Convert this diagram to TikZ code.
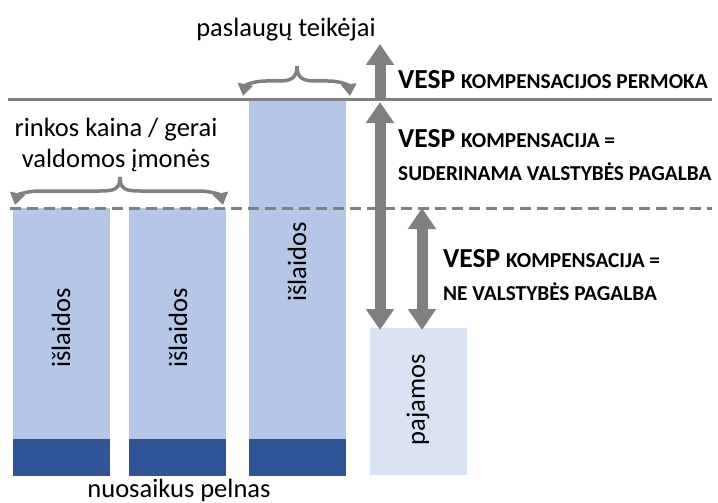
\documentclass[tikz,border=0pt]{standalone}
\usepackage{fontspec}
\setmainfont{Carlito}
\usetikzlibrary{arrows.meta}
\definecolor{barlight}{HTML}{B4C7E7}
\definecolor{bardark}{HTML}{2F5597}
\definecolor{barpale}{HTML}{DAE3F3}
\definecolor{arrgray}{HTML}{808080}
\newcommand{\vesp}[1]{{\fontsize{27.5}{33}\selectfont\bfseries VESP} {\fontsize{21.3}{33}\selectfont\bfseries #1}}
\newcommand{\capsline}[1]{{\fontsize{21.3}{33}\selectfont\bfseries #1}}

\begin{document}
\begin{tikzpicture}[x=1pt,y=-1pt,font=\fontsize{26.5}{31}\selectfont,
  cost/.style={fill=barlight,minimum width=97pt,inner sep=0pt,anchor=south west},
  profit/.style={fill=bardark,minimum width=97pt,minimum height=37pt,inner sep=0pt,anchor=north},
  fatarr/.style={arrgray,line width=11pt,-{Triangle[width=27pt,length=21pt]}},
  fatarrs/.style={arrgray,line width=11pt,{Triangle[width=27pt,length=21pt]}-{Triangle[width=27pt,length=21pt]}},
  bracearm/.style={arrgray,line width=3.5pt,-{Triangle[width=15pt,length=12pt]}},
  note/.style={anchor=west,align=left,inner sep=0pt}]
\useasboundingbox (0,0) rectangle (718,503);

% bars
\node[cost,minimum height=231pt] (b1) at (13,439) {};
\node[profit] (p1) at (b1.south) {};
\node[cost,minimum height=231pt] (b2) at (129,439) {};
\node[profit] (p2) at (b2.south) {};
\node[cost,minimum height=339pt] (b3) at (249,439) {};
\node[profit] (p3) at (b3.south) {};
\node[fill=barpale,minimum width=97pt,minimum height=147pt,inner sep=0pt,anchor=north west] (inc) at (370,328) {};

\node[rotate=90] (t1) at (61,328) {išlaidos};
\node[rotate=90] (t2) at (178,328) {išlaidos};
\node[rotate=90] (t3) at (297,262) {išlaidos};
\node[rotate=90] (t4) at (418,400) {pajamos};
\node (pelnas) at (179,490) {nuosaikus pelnas};

% levels
\coordinate (sl) at (8,100);
\coordinate (sr) at (712,100);
\coordinate (dl) at (10,208);
\coordinate (dr) at (712,208);
\draw[arrgray,line width=3pt] (sl) -- (sr);
\draw[arrgray,line width=3pt,dash pattern=on 11pt off 6pt] (dl) -- (dr);

% braces
\coordinate (c1) at (120,177);
\draw[bracearm] (c1) .. controls (120,190) and (113,191) .. (100,191) -- (40,191) .. controls (24,191) and (17,196) .. (15,205);
\draw[bracearm] (c1) .. controls (120,190) and (127,191) .. (140,191) -- (198,191) .. controls (214,191) and (221,196) .. (223,205);
\coordinate (c2) at (297,66);
\draw[bracearm] (c2) .. controls (297,79) and (290,81) .. (278,81) -- (266,81) .. controls (252,81) and (245,86) .. (243,96);
\draw[bracearm] (c2) .. controls (297,79) and (304,81) .. (316,81) -- (328,81) .. controls (342,81) and (349,86) .. (350,96);
\node (grp1) at (116,145) [align=center] {rinkos kaina / gerai\\valdomos įmonės};
\node (grp2) at (286,30) {paslaugų teikėjai};

% compensation arrows
\coordinate (a0) at (380,100);
\coordinate (a1) at (380,44);
\coordinate (a2) at (380,102);
\coordinate (a3) at (380,330);
\coordinate (a4) at (422,208);
\coordinate (a5) at (422,330);
\draw[fatarr] (a0) -- (a1);
\draw[fatarrs] (a2) -- (a3);
\draw[fatarrs] (a4) -- (a5);

\node[note] (n1) at (398,80) {\vesp{KOMPENSACIJOS PERMOKA}};
\node[note] (n2) at (398,155) {\vesp{KOMPENSACIJA =}\\[2pt]\capsline{SUDERINAMA VALSTYBĖS PAGALBA}};
\node[note] (n3) at (443,275) {\vesp{KOMPENSACIJA =}\\[2pt]\capsline{NE VALSTYBĖS PAGALBA}};
\end{tikzpicture}
\end{document}
